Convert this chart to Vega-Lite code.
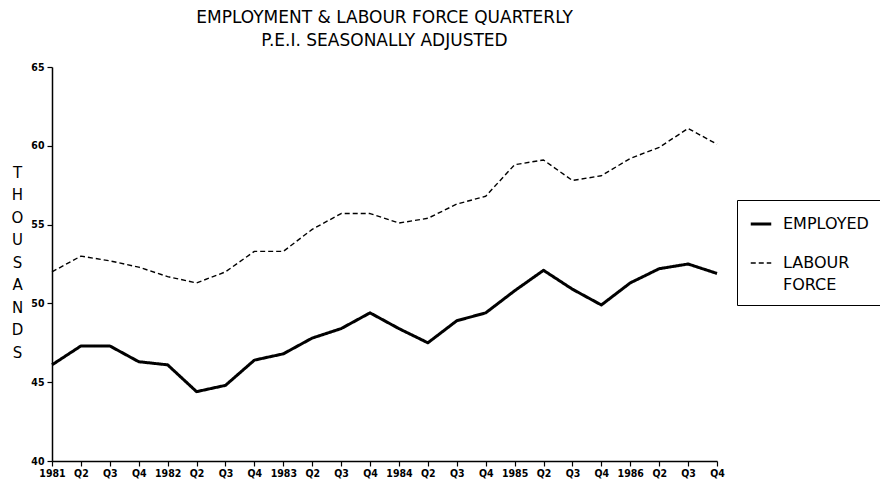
{
  "$schema": "https://vega.github.io/schema/vega-lite/v6.json",
  "autosize": "none",
  "width": 665,
  "height": 394,
  "padding": {"left": 52, "top": 67, "right": 163, "bottom": 19},
  "background": "white",
  "config": {
    "font": "DejaVu Sans Condensed",
    "view": {"stroke": null},
    "axis": {"grid": false, "domainColor": "black", "tickColor": "black", "labelColor": "black", "titleColor": "black", "domainWidth": 1.5, "tickWidth": 1.2}
  },
  "title": {
    "text": ["EMPLOYMENT & LABOUR FORCE QUARTERLY", "P.E.I. SEASONALLY ADJUSTED"],
    "fontSize": 17,
    "fontWeight": "normal",
    "font": "DejaVu Sans",
    "color": "black",
    "lineHeight": 23,
    "anchor": "middle",
    "offset": 12
  },
  "data": {
    "values": [
      {"period": "1981 Q1", "EMPLOYED": 46.1, "LABOUR FORCE": 52.0},
      {"period": "1981 Q2", "EMPLOYED": 47.3, "LABOUR FORCE": 53.0},
      {"period": "1981 Q3", "EMPLOYED": 47.3, "LABOUR FORCE": 52.7},
      {"period": "1981 Q4", "EMPLOYED": 46.3, "LABOUR FORCE": 52.3},
      {"period": "1982 Q1", "EMPLOYED": 46.1, "LABOUR FORCE": 51.7},
      {"period": "1982 Q2", "EMPLOYED": 44.4, "LABOUR FORCE": 51.3},
      {"period": "1982 Q3", "EMPLOYED": 44.8, "LABOUR FORCE": 52.0},
      {"period": "1982 Q4", "EMPLOYED": 46.4, "LABOUR FORCE": 53.3},
      {"period": "1983 Q1", "EMPLOYED": 46.8, "LABOUR FORCE": 53.3},
      {"period": "1983 Q2", "EMPLOYED": 47.8, "LABOUR FORCE": 54.7},
      {"period": "1983 Q3", "EMPLOYED": 48.4, "LABOUR FORCE": 55.7},
      {"period": "1983 Q4", "EMPLOYED": 49.4, "LABOUR FORCE": 55.7},
      {"period": "1984 Q1", "EMPLOYED": 48.4, "LABOUR FORCE": 55.1},
      {"period": "1984 Q2", "EMPLOYED": 47.5, "LABOUR FORCE": 55.4},
      {"period": "1984 Q3", "EMPLOYED": 48.9, "LABOUR FORCE": 56.3},
      {"period": "1984 Q4", "EMPLOYED": 49.4, "LABOUR FORCE": 56.8},
      {"period": "1985 Q1", "EMPLOYED": 50.8, "LABOUR FORCE": 58.8},
      {"period": "1985 Q2", "EMPLOYED": 52.1, "LABOUR FORCE": 59.1},
      {"period": "1985 Q3", "EMPLOYED": 50.9, "LABOUR FORCE": 57.8},
      {"period": "1985 Q4", "EMPLOYED": 49.9, "LABOUR FORCE": 58.1},
      {"period": "1986 Q1", "EMPLOYED": 51.3, "LABOUR FORCE": 59.2},
      {"period": "1986 Q2", "EMPLOYED": 52.2, "LABOUR FORCE": 59.9},
      {"period": "1986 Q3", "EMPLOYED": 52.5, "LABOUR FORCE": 61.1},
      {"period": "1986 Q4", "EMPLOYED": 51.9, "LABOUR FORCE": 60.1}
    ]
  },
  "transform": [{"fold": ["EMPLOYED", "LABOUR FORCE"], "as": ["series", "value"]}],
  "mark": {"type": "line", "color": "black", "strokeJoin": "round"},
  "encoding": {
    "x": {
      "field": "period",
      "type": "ordinal",
      "sort": null,
      "scale": {"type": "point", "padding": 0},
      "axis": {
        "title": null,
        "labelAngle": 0,
        "labelExpr": "indexof(datum.value, 'Q1') > 0 ? slice(datum.value, 0, 4) : slice(datum.value, 5)",
        "labelFont": "DejaVu Sans Condensed",
        "labelFontWeight": "bold",
        "labelFontSize": 10.5,
        "tickSize": 5,
        "labelPadding": 2
      }
    },
    "y": {
      "field": "value",
      "type": "quantitative",
      "scale": {"domain": [40, 65], "nice": false, "zero": false},
      "axis": {
        "values": [40, 45, 50, 55, 60, 65],
        "labelFontWeight": "bold",
        "labelFontSize": 10.5,
        "tickSize": 5,
        "labelPadding": 3,
        "title": ["T", "H", "O", "U", "S", "A", "N", "D", "S"],
        "titleAngle": 0,
        "titleFont": "DejaVu Sans",
        "titleFontSize": 15,
        "titleFontWeight": "normal",
        "titleLineHeight": 22.5,
        "titleAlign": "center",
        "titleBaseline": "middle",
        "titleX": -35,
        "titleY": 105
      }
    },
    "strokeDash": {
      "field": "series",
      "type": "nominal",
      "scale": {"domain": ["EMPLOYED", "LABOUR FORCE"], "range": [[1, 0], [5, 3]]},
      "legend": {
        "title": null,
        "orient": "none",
        "legendX": 685,
        "legendY": 133,
        "strokeColor": "black",
        "padding": 12,
        "symbolType": "stroke",
        "symbolSize": 420,
        "symbolStrokeColor": "black",
        "labelFont": "DejaVu Sans",
        "labelFontSize": 16,
        "labelColor": "black",
        "labelExpr": "datum.label == 'LABOUR FORCE' ? ['LABOUR', 'FORCE'] : datum.label",
        "labelBaseline": "middle",
        "labelOffset": 10,
        "rowPadding": 20,
        "labelLimit": 200,
        "encode": {"labels": {"update": {"lineHeight": {"value": 22}}}}
      }
    },
    "strokeWidth": {
      "field": "series",
      "type": "nominal",
      "scale": {"domain": ["EMPLOYED", "LABOUR FORCE"], "range": [3, 1.4]},
      "legend": {
        "title": null,
        "orient": "none",
        "legendX": 685,
        "legendY": 133,
        "strokeColor": "black",
        "padding": 12,
        "symbolType": "stroke",
        "symbolSize": 420,
        "symbolStrokeColor": "black",
        "labelFont": "DejaVu Sans",
        "labelFontSize": 16,
        "labelColor": "black",
        "labelExpr": "datum.label == 'LABOUR FORCE' ? ['LABOUR', 'FORCE'] : datum.label",
        "labelBaseline": "middle",
        "labelOffset": 10,
        "rowPadding": 20,
        "labelLimit": 200,
        "encode": {"labels": {"update": {"lineHeight": {"value": 22}}}}
      }
    }
  }
}
